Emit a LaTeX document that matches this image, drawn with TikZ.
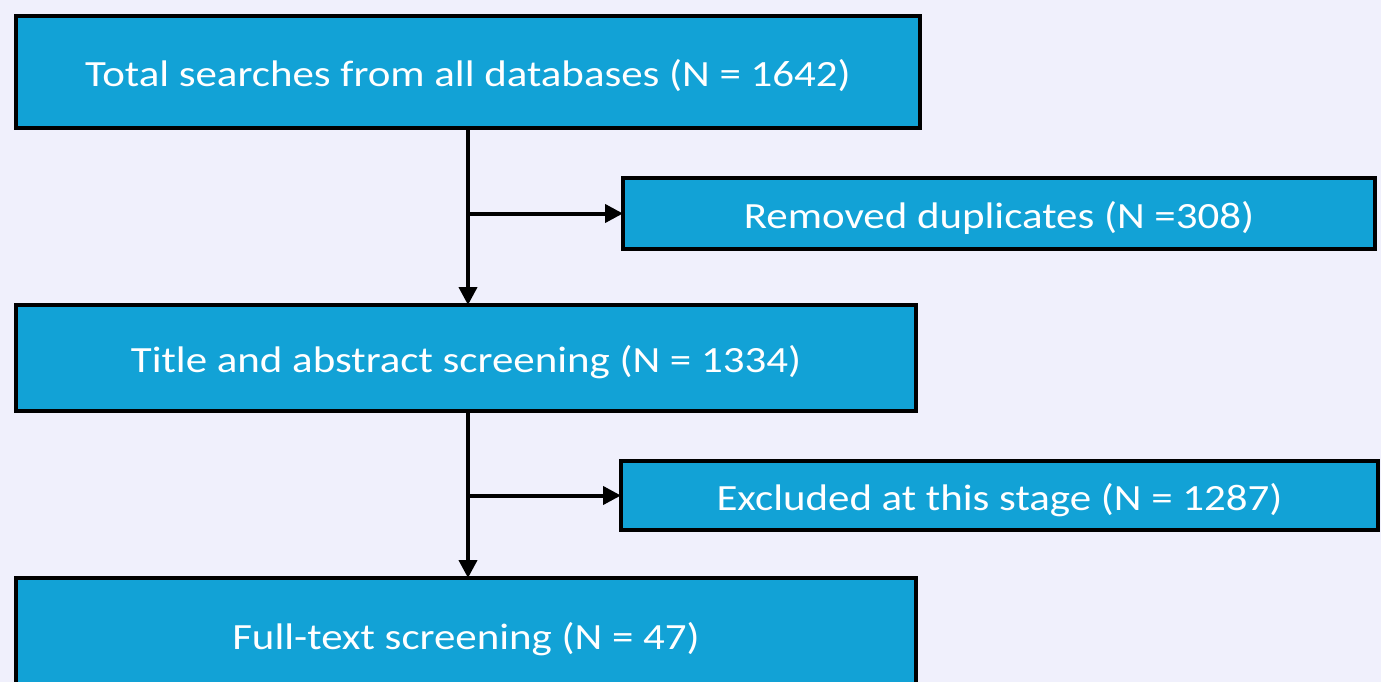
\documentclass[tikz,border=0pt]{standalone}
\usepackage{fontspec}
\setmainfont{Carlito}[FakeStretch=1.16]
\usetikzlibrary{arrows.meta}
\definecolor{bg}{RGB}{240,240,252}
\definecolor{boxblue}{RGB}{18,162,214}
\tikzset{
  stepbox/.style={draw=black, line width=4pt, fill=boxblue, text=white,
    inner sep=0pt, outer sep=0pt, font=\fontsize{37}{44}\selectfont,
    text height=32pt, text depth=3pt, anchor=center},
  flow/.style={draw=black, line width=4pt, -{Triangle[length=18pt,width=18pt]}}
}
\begin{document}
\begin{tikzpicture}[x=1pt,y=-1pt]
\path[use as bounding box, fill=bg] (0,0) rectangle (1381,682);
\clip (0,0) rectangle (1381,682);
\node[stepbox, minimum width=904pt, minimum height=112pt] (b1) at (468,72) {Total searches from all databases (N = 1642)};
\node[stepbox, minimum width=752pt, minimum height=71pt] (b2) at (999,213.5) {Removed duplicates (N =308)};
\node[stepbox, minimum width=900pt, minimum height=106pt] (b3) at (466,358) {Title and abstract screening (N = 1334)};
\node[stepbox, minimum width=757pt, minimum height=69pt] (b4) at (999.5,495.5) {Excluded at this stage (N = 1287)};
\node[stepbox, minimum width=900pt, minimum height=114pt] (b5) at (466,635) {Full-text screening (N = 47)};
\coordinate (j1) at (b1.south |- b2.west);
\coordinate (j2) at (b1.south |- b4.west);
\draw[flow] (b1.south) -- (b1.south |- b3.north);
\draw[flow] (j1) -- (b2.west);
\draw[flow] (b1.south |- b3.south) -- (b1.south |- b5.north);
\draw[flow] (j2) -- (b4.west);
\end{tikzpicture}
\end{document}
